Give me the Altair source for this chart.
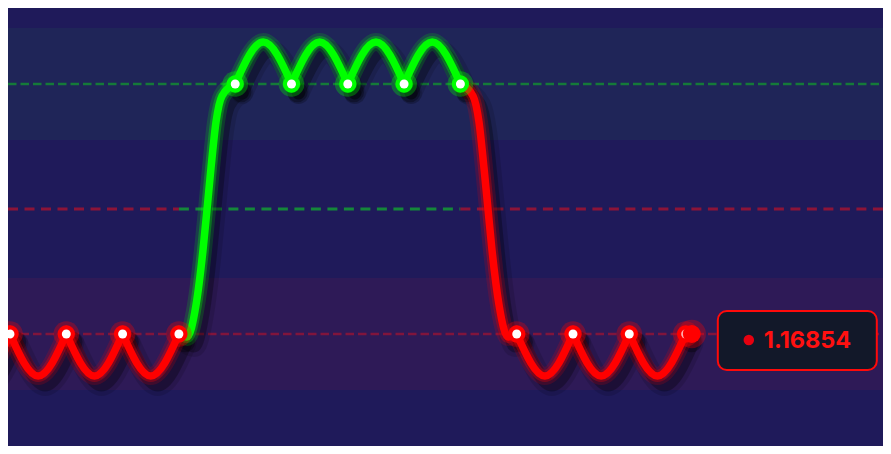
import altair as alt
import pandas as pd

# ---------------- data ----------------
# one node per step k; prices of the nodes
node_k = [-1, 0, 1, 2, 3, 4, 5, 6, 7, 8, 9, 10, 11, 12]
node_price = [1.16854, 1.16854, 1.16854, 1.16854, 1.16854,
              1.16954, 1.16954, 1.16954, 1.16954, 1.16954,
              1.16854, 1.16854, 1.16854, 1.16854]
node_side = ["down", "down", "down", "down", "down",
             "up", "up", "up", "up", "up",
             "down", "down", "down", "down"]
trough_price = 1.168372   # bottom of each red wave
peak_price = 1.169708     # top of each green wave

# the rising move (step 3 -> 4) and the falling move (step 8 -> 9)
rise_k = [3.0, 3.144, 3.304, 3.428, 3.5, 3.570, 3.659, 3.766, 4.0]
rise_price = [1.16854, 1.168528, 1.168656, 1.168876, 1.16904,
              1.169204, 1.169388, 1.169492, 1.16954]
fall_k = [8.0, 8.224, 8.330, 8.419, 8.49, 8.561, 8.686, 8.845, 9.0]
fall_price = [1.16954, 1.169492, 1.169388, 1.169204, 1.16904,
              1.168876, 1.168656, 1.168528, 1.16854]

# reference levels and zones
level_high = 1.16954
level_mid = 1.16904
level_low = 1.16854
zone_top = [1.169316, 1.169764]
zone_bottom = [1.168316, 1.168764]

last_k = 12.11
last_price = 1.16854

# view extents
k_domain = [-0.0355, 15.506]
p_domain = [1.168092, 1.169844]

RED = "#ff0000"
GREEN = "#00ff00"
W, H = 875, 438

# ---------------- tables ----------------
rows = []
for i in range(len(node_k) - 1):
    k0, k1 = node_k[i], node_k[i + 1]
    col = RED if node_side[i + 1] == "down" else GREEN
    if node_side[i] != node_side[i + 1]:
        if node_side[i] == "down":
            ks, ps, col = rise_k, rise_price, GREEN
        else:
            ks, ps, col = fall_k, fall_price, RED
    elif node_side[i] == "down":
        ks, ps = [k0, k0 + 0.5, k1], [node_price[i], trough_price, node_price[i + 1]]
    else:
        ks, ps = [k0, k0 + 0.5, k1], [node_price[i], peak_price, node_price[i + 1]]
    for kk, pp in zip(ks, ps):
        rows.append({"piece": i, "k": kk, "price": pp, "col": col})
line_df = pd.DataFrame(rows)

nodes_df = pd.DataFrame({
    "k": node_k, "price": node_price,
    "col": [RED if s == "down" else GREEN for s in node_side],
})
nodes_df = nodes_df[nodes_df["k"] >= 0]

zones_df = pd.DataFrame({
    "p0": [zone_top[0], zone_bottom[0]],
    "p1": [zone_top[1], zone_bottom[1]],
    "fill": ["#1f2558", "#2e1a57"],
})

levels_df = pd.DataFrame({
    "k0": [k_domain[0], k_domain[0], k_domain[0], 3, 8],
    "k1": [k_domain[1], k_domain[1], 3, 8, k_domain[1]],
    "price": [level_high, level_low, level_mid, level_mid, level_mid],
    "col": ["#157a39", "#80153c", "#8c1438", "#15873a", "#8c1438"],
    "kind": ["a", "b", "c", "c", "c"],
})

last_df = pd.DataFrame({"k": [last_k], "price": [last_price],
                        "label": [f"{last_price:.5f}"]})

xs = alt.Scale(domain=k_domain, nice=False, zero=False)
ys = alt.Scale(domain=p_domain, nice=False, zero=False)
X = alt.X("k:Q", scale=xs, axis=None)
Y = alt.Y("price:Q", scale=ys, axis=None)

zones = alt.Chart(zones_df).mark_rect().encode(
    x=alt.value(0), x2=alt.value(W),
    y=alt.Y("p0:Q", scale=ys, axis=None), y2="p1:Q",
    fill=alt.Fill("fill:N", scale=None),
)

dash_ab = alt.Chart(levels_df[levels_df["kind"] != "c"]).mark_rule(
    strokeDash=[8.5, 4], strokeWidth=2.5
).encode(
    x=alt.X("k0:Q", scale=xs, axis=None), x2="k1:Q", y=Y,
    color=alt.Color("col:N", scale=None),
)
dash_c = alt.Chart(levels_df[levels_df["kind"] == "c"]).mark_rule(
    strokeDash=[10, 6.5], strokeWidth=3
).encode(
    x=alt.X("k0:Q", scale=xs, axis=None), x2="k1:Q", y=Y,
    color=alt.Color("col:N", scale=None),
)

base_line = alt.Chart(line_df)
enc = dict(x=X, y=Y, detail="piece:N", color=alt.Color("col:N", scale=None))

shadow = base_line.mark_line(
    interpolate="monotone", strokeWidth=13, color="#000000", opacity=0.28,
    xOffset=7, yOffset=9, strokeCap="round", strokeJoin="round", clip=True,
).encode(x=X, y=Y, detail="piece:N")
shadow2 = base_line.mark_line(
    interpolate="monotone", strokeWidth=22, color="#000000", opacity=0.12,
    xOffset=7, yOffset=9, strokeCap="round", strokeJoin="round", clip=True,
).encode(x=X, y=Y, detail="piece:N")

glow1 = base_line.mark_line(
    interpolate="monotone", strokeWidth=18, opacity=0.16,
    strokeCap="round", strokeJoin="round", clip=True,
).encode(**enc)
glow2 = base_line.mark_line(
    interpolate="monotone", strokeWidth=12, opacity=0.3,
    strokeCap="round", strokeJoin="round", clip=True,
).encode(**enc)
main = base_line.mark_line(
    interpolate="monotone", strokeWidth=7.5,
    strokeCap="round", strokeJoin="round", clip=True,
).encode(**enc)

base_nodes = alt.Chart(nodes_df)
node_shadow = base_nodes.mark_circle(
    size=420, color="#000000", opacity=0.3, xOffset=6, yOffset=8
).encode(x=X, y=Y)
node_glow = base_nodes.mark_circle(size=660, opacity=0.3).encode(
    x=X, y=Y, color=alt.Color("col:N", scale=None))
node_ring = base_nodes.mark_circle(size=300, opacity=1).encode(
    x=X, y=Y, color=alt.Color("col:N", scale=None))
node_dot = base_nodes.mark_circle(size=80, color="#ffffff", opacity=1).encode(
    x=X, y=Y)

base_last = alt.Chart(last_df)
last_glow = base_last.mark_circle(size=800, color=RED, opacity=0.3).encode(x=X, y=Y)
last_dot = base_last.mark_circle(size=320, color=RED, opacity=1).encode(x=X, y=Y)

box = base_last.mark_rect(
    fill="#121829", stroke="#ff0a0a", strokeWidth=2, cornerRadius=9,
    xOffset=26, x2Offset=185, yOffset=-23, y2Offset=36,
).encode(x=X, x2="k:Q", y=Y, y2="price:Q")
box_dot = base_last.mark_circle(size=110, color="#e6000f", opacity=1,
                                xOffset=57, yOffset=6).encode(x=X, y=Y)
box_text = base_last.mark_text(
    font="Inter", fontSize=23.5, fontWeight="bold", color="#ff1010",
    align="left", baseline="middle", xOffset=72, yOffset=7,
).encode(x=X, y=Y, text="label:N")

chart = alt.layer(
    zones, dash_ab, dash_c, shadow2, shadow, node_shadow, glow1, glow2, main,
    node_glow, node_ring, node_dot, last_glow, last_dot,
    box, box_dot, box_text,
).properties(
    width=W, height=H, padding=0,
    autosize=alt.AutoSizeParams(type="none"),
    background="#1f1a5a",
).configure_view(stroke=None)

chart.save("out.html", embed_options={"renderer": "svg", "actions": False})
